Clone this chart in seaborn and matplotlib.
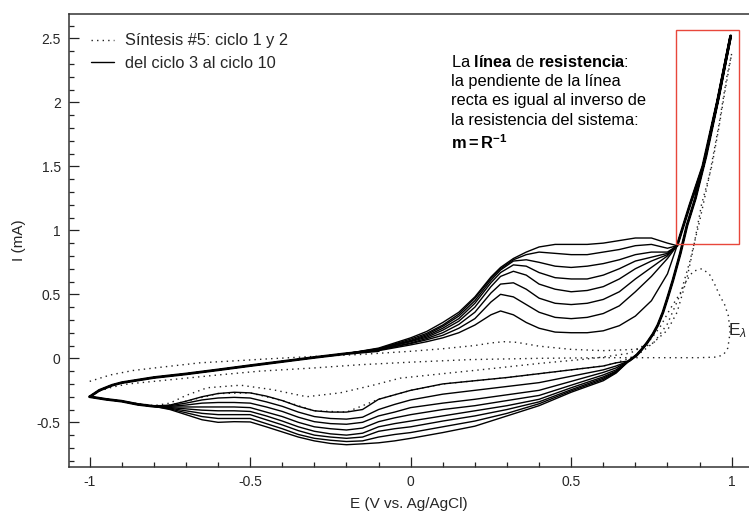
import matplotlib
matplotlib.use("Agg")
import matplotlib.pyplot as plt
import numpy as np
import pandas as pd
import seaborn as sns
from matplotlib.lines import Line2D
from matplotlib.patches import Rectangle
from matplotlib.ticker import MultipleLocator, FuncFormatter

# ---------------------------------------------------------------------------
# Voltammogram data: potential E (V vs. Ag/AgCl) and current I (mA)
# ---------------------------------------------------------------------------

# Anodic sweep, shared by cycles 3-10 (from -1 V up to -0.2 V)
E_ANODIC_START = [-1.0, -0.97, -0.93, -0.9, -0.8, -0.7, -0.6, -0.5, -0.4, -0.3, -0.2]
I_ANODIC_START = [-0.30, -0.25, -0.21, -0.19, -0.15, -0.122, -0.09, -0.057, -0.025, 0.007, 0.037]

# Anodic sweep, per cycle (polymer oxidation region)
E_ANODIC_MID = [-0.1, 0.0, 0.05, 0.1, 0.15, 0.2, 0.25, 0.28, 0.32, 0.36,
                0.4, 0.45, 0.5, 0.55, 0.6, 0.65, 0.7, 0.75, 0.8, 0.83]
I_ANODIC_C3 = [0.06, 0.105, 0.13, 0.16, 0.20, 0.26, 0.34, 0.37, 0.34, 0.28,
               0.235, 0.205, 0.20, 0.20, 0.215, 0.255, 0.33, 0.45, 0.66, 0.88]
I_ANODIC_C4 = [0.065, 0.115, 0.145, 0.18, 0.235, 0.31, 0.44, 0.50, 0.48, 0.42,
               0.36, 0.32, 0.31, 0.32, 0.35, 0.41, 0.52, 0.64, 0.78, 0.88]
I_ANODIC_C5 = [0.065, 0.12, 0.155, 0.20, 0.265, 0.36, 0.51, 0.58, 0.59, 0.54,
               0.47, 0.43, 0.42, 0.43, 0.46, 0.52, 0.62, 0.71, 0.80, 0.88]
I_ANODIC_C6 = [0.07, 0.13, 0.165, 0.22, 0.29, 0.40, 0.56, 0.64, 0.68, 0.65,
               0.58, 0.54, 0.52, 0.53, 0.56, 0.62, 0.70, 0.76, 0.81, 0.88]
I_ANODIC_C7 = [0.07, 0.135, 0.175, 0.235, 0.31, 0.43, 0.59, 0.67, 0.73, 0.72,
               0.67, 0.63, 0.62, 0.62, 0.65, 0.70, 0.76, 0.79, 0.82, 0.88]
I_ANODIC_C8 = [0.075, 0.14, 0.185, 0.25, 0.33, 0.45, 0.61, 0.69, 0.76, 0.77,
               0.75, 0.72, 0.71, 0.72, 0.74, 0.77, 0.81, 0.83, 0.83, 0.88]
I_ANODIC_C9 = [0.075, 0.15, 0.195, 0.26, 0.345, 0.47, 0.625, 0.70, 0.77, 0.81,
               0.83, 0.82, 0.81, 0.81, 0.83, 0.85, 0.88, 0.89, 0.86, 0.88]
I_ANODIC_C10 = [0.08, 0.16, 0.21, 0.28, 0.36, 0.48, 0.635, 0.71, 0.78, 0.83,
                0.87, 0.89, 0.89, 0.89, 0.90, 0.92, 0.94, 0.94, 0.90, 0.88]

# Anodic sweep up to the switching potential (resistance line)
E_ANODIC_END = [0.87, 0.91, 0.955, 0.997]
I_ANODIC_END = [1.2, 1.5, 2.0, 2.52]

# Cathodic sweep, shared part right after the switching potential
E_CATHODIC_START = [0.96, 0.92, 0.887, 0.861, 0.84, 0.817, 0.8, 0.786, 0.77,
                    0.755, 0.736, 0.72, 0.704, 0.68]
I_CATHODIC_START = [2.05, 1.58, 1.25, 1.04, 0.82, 0.61, 0.47, 0.36, 0.26,
                    0.19, 0.12, 0.07, 0.025, -0.02]

# Cathodic sweep, per cycle (polymer reduction region)
E_CATHODIC_MID = [0.64, 0.6, 0.5, 0.4, 0.3, 0.2, 0.1, 0.0, -0.05, -0.1, -0.15, -0.2,
                  -0.25, -0.3, -0.35, -0.4, -0.45, -0.5, -0.55, -0.6, -0.65, -0.7, -0.75]
I_CATHODIC_C3 = [-0.035, -0.06, -0.09, -0.12, -0.15, -0.175, -0.20, -0.25, -0.285, -0.32,
                 -0.40, -0.42, -0.42, -0.41, -0.375, -0.33, -0.295, -0.27, -0.265,
                 -0.275, -0.30, -0.335, -0.365]
I_CATHODIC_C4 = [-0.06, -0.09, -0.14, -0.19, -0.22, -0.25, -0.28, -0.325, -0.36, -0.40,
                 -0.46, -0.475, -0.47, -0.455, -0.42, -0.375, -0.34, -0.31, -0.305,
                 -0.31, -0.325, -0.35, -0.37]
I_CATHODIC_C5 = [-0.075, -0.11, -0.18, -0.25, -0.285, -0.32, -0.35, -0.385, -0.42, -0.45,
                 -0.50, -0.515, -0.51, -0.495, -0.46, -0.415, -0.38, -0.35, -0.345,
                 -0.345, -0.35, -0.365, -0.375]
I_CATHODIC_C6 = [-0.09, -0.13, -0.21, -0.29, -0.33, -0.37, -0.40, -0.44, -0.465, -0.495,
                 -0.545, -0.56, -0.55, -0.535, -0.50, -0.455, -0.42, -0.385, -0.38,
                 -0.38, -0.38, -0.38, -0.38]
I_CATHODIC_C7 = [-0.10, -0.145, -0.23, -0.32, -0.37, -0.41, -0.45, -0.49, -0.51, -0.535,
                 -0.585, -0.60, -0.59, -0.57, -0.535, -0.49, -0.45, -0.415, -0.41,
                 -0.41, -0.405, -0.395, -0.385]
I_CATHODIC_C8 = [-0.105, -0.155, -0.245, -0.34, -0.40, -0.45, -0.49, -0.535, -0.55, -0.57,
                 -0.615, -0.625, -0.615, -0.60, -0.565, -0.52, -0.48, -0.44, -0.44,
                 -0.44, -0.43, -0.41, -0.39]
I_CATHODIC_C9 = [-0.11, -0.165, -0.255, -0.355, -0.43, -0.49, -0.535, -0.58, -0.595, -0.615,
                 -0.645, -0.65, -0.64, -0.625, -0.595, -0.55, -0.51, -0.47, -0.47,
                 -0.47, -0.455, -0.425, -0.395]
I_CATHODIC_C10 = [-0.115, -0.175, -0.265, -0.37, -0.45, -0.53, -0.58, -0.625, -0.645, -0.66,
                  -0.668, -0.675, -0.665, -0.645, -0.615, -0.575, -0.535, -0.497, -0.495,
                  -0.50, -0.48, -0.44, -0.40]

# Cathodic sweep, shared end back to -1 V
E_CATHODIC_END = [-0.8, -0.85, -0.9, -0.95, -1.0]
I_CATHODIC_END = [-0.375, -0.36, -0.335, -0.32, -0.30]

# Cycle 1 (full loop, nucleation loop at the switching potential)
E_CYCLE1 = [-1.0, -0.97, -0.93, -0.88, -0.8, -0.7, -0.6, -0.47, -0.3, -0.158, 0.0, 0.185,
            0.4, 0.6, 0.8, 0.9, 0.955, 0.975, 0.988, 0.995, 0.99, 0.978, 0.963, 0.945,
            0.93, 0.907, 0.88, 0.86, 0.84, 0.807, 0.777, 0.745, 0.714, 0.683, 0.6, 0.53,
            0.4, 0.216, 0.1, -0.033, -0.117, -0.22, -0.324, -0.43, -0.53, -0.634, -0.7,
            -0.75, -0.8, -0.9, -1.0]
I_CYCLE1 = [-0.30, -0.255, -0.225, -0.20, -0.18, -0.155, -0.13, -0.10, -0.075, -0.05,
            -0.03, -0.01, 0.0, 0.005, 0.005, 0.005, 0.01, 0.03, 0.08, 0.2, 0.33, 0.42,
            0.49, 0.59, 0.66, 0.70, 0.68, 0.61, 0.51, 0.38, 0.245, 0.14, 0.08, 0.04,
            0.01, -0.01, -0.04, -0.09, -0.12, -0.155, -0.21, -0.27, -0.30, -0.245,
            -0.21, -0.23, -0.29, -0.35, -0.37, -0.335, -0.30]

# Cycle 2 (full loop)
E_CYCLE2 = [-1.0, -0.936, -0.865, -0.78, -0.656, -0.55, -0.45, -0.3, -0.158, 0.0, 0.1,
            0.2, 0.25, 0.29, 0.33, 0.4, 0.5, 0.6, 0.7, 0.75, 0.8, 0.83, 0.86, 0.88,
            0.906, 0.938, 0.96, 0.98, 1.0, 0.985, 0.96, 0.93, 0.9, 0.87, 0.84, 0.8,
            0.76, 0.72, 0.68, 0.64, 0.6, 0.5, 0.4, 0.3, 0.2, 0.1, 0.0, -0.1, -0.2,
            -0.3, -0.4, -0.5, -0.6, -0.7, -0.75, -0.8, -0.9, -1.0]
I_CYCLE2 = [-0.18, -0.13, -0.095, -0.07, -0.035, -0.02, -0.005, 0.015, 0.03, 0.055,
            0.075, 0.10, 0.12, 0.13, 0.125, 0.095, 0.07, 0.06, 0.07, 0.11, 0.22, 0.36,
            0.62, 0.85, 1.2, 1.5, 1.8, 2.1, 2.38, 2.2, 1.82, 1.42, 1.07, 0.76, 0.5,
            0.27, 0.13, 0.05, 0.0, -0.035, -0.06, -0.09, -0.12, -0.15, -0.175, -0.2,
            -0.25, -0.32, -0.42, -0.41, -0.33, -0.27, -0.275, -0.335, -0.365, -0.375,
            -0.335, -0.30]

ANODIC_BY_CYCLE = [I_ANODIC_C3, I_ANODIC_C4, I_ANODIC_C5, I_ANODIC_C6,
                   I_ANODIC_C7, I_ANODIC_C8, I_ANODIC_C9, I_ANODIC_C10]
CATHODIC_BY_CYCLE = [I_CATHODIC_C3, I_CATHODIC_C4, I_CATHODIC_C5, I_CATHODIC_C6,
                     I_CATHODIC_C7, I_CATHODIC_C8, I_CATHODIC_C9, I_CATHODIC_C10]

LEGEND_LABELS = ["Síntesis #5: ciclo 1 y 2", "del ciclo 3 al ciclo 10"]

# ---------------------------------------------------------------------------
# Long-form tables
# ---------------------------------------------------------------------------
rows = []
for n, (i_an, i_cat) in enumerate(zip(ANODIC_BY_CYCLE, CATHODIC_BY_CYCLE), start=3):
    e_all = (E_ANODIC_START + E_ANODIC_MID + E_ANODIC_END +
             E_CATHODIC_START + E_CATHODIC_MID + E_CATHODIC_END)
    i_all = (I_ANODIC_START + i_an + I_ANODIC_END +
             I_CATHODIC_START + i_cat + I_CATHODIC_END)
    for k, (e, i) in enumerate(zip(e_all, i_all)):
        rows.append({"ciclo": n, "paso": k, "E": e, "I": i})
solid_df = pd.DataFrame(rows)

# Stretches where the eight cycles lie on top of each other (drawn as one bundle)
bundle_parts = [
    (E_ANODIC_START + E_ANODIC_MID[:1], I_ANODIC_START + [I_ANODIC_C3[0]]),
    (E_ANODIC_MID[-1:] + E_ANODIC_END + E_CATHODIC_START,
     I_ANODIC_C3[-1:] + I_ANODIC_END + I_CATHODIC_START),
    (E_CATHODIC_MID[-1:] + E_CATHODIC_END, [I_CATHODIC_C5[-1]] + I_CATHODIC_END),
]
rows = []
for n, (e_p, i_p) in enumerate(bundle_parts):
    for k, (e, i) in enumerate(zip(e_p, i_p)):
        rows.append({"tramo": n, "paso": k, "E": e, "I": i})
bundle_df = pd.DataFrame(rows)

rows = []
for n, (e_c, i_c) in enumerate([(E_CYCLE1, I_CYCLE1), (E_CYCLE2, I_CYCLE2)], start=1):
    for k, (e, i) in enumerate(zip(e_c, i_c)):
        rows.append({"ciclo": n, "paso": k, "E": e, "I": i})
dotted_df = pd.DataFrame(rows)

# ---------------------------------------------------------------------------
# Figure
# ---------------------------------------------------------------------------
sns.set_theme(style="white")
plt.rcParams.update({
    "font.family": ["Liberation Sans", "DejaVu Sans"],
    "font.size": 10,
    "axes.unicode_minus": False,
    "mathtext.fontset": "custom",
    "mathtext.rm": "Liberation Sans",
    "mathtext.it": "Liberation Sans:italic",
    "mathtext.bf": "Liberation Sans:bold",
})

TEXT_SIZE = 11.8
DOTS = (0, (1, 3))
fig = plt.figure(figsize=(7.49, 5.12), dpi=100)
ax = fig.add_axes([69 / 749, 45 / 512, 680 / 749, 453 / 512])

sns.lineplot(data=dotted_df, x="E", y="I", units="ciclo", estimator=None, sort=False,
             color="#222222", lw=1.0, linestyle=DOTS, ax=ax, legend=False)
sns.lineplot(data=solid_df, x="E", y="I", units="ciclo", estimator=None, sort=False,
             color="black", lw=1.0, ax=ax, legend=False)
sns.lineplot(data=bundle_df, x="E", y="I", units="tramo", estimator=None, sort=False,
             color="black", lw=2.0, ax=ax, legend=False,
             solid_capstyle="round", solid_joinstyle="round")

ax.set_xlim(-1.0645, 1.054)
ax.set_ylim(-0.849, 2.69)

for side in ("left", "top", "bottom"):
    ax.spines[side].set_visible(True)
    ax.spines[side].set_color("#333333")
    ax.spines[side].set_linewidth(1.1)
ax.spines["right"].set_visible(False)

ax.xaxis.set_major_locator(MultipleLocator(0.5))
ax.xaxis.set_minor_locator(MultipleLocator(0.1))
ax.yaxis.set_major_locator(MultipleLocator(0.5))
ax.yaxis.set_minor_locator(MultipleLocator(0.1))
fmt = FuncFormatter(lambda v, p: f"{round(v, 2) + 0.0:g}")
ax.xaxis.set_major_formatter(fmt)
ax.yaxis.set_major_formatter(fmt)
ax.tick_params(which="major", direction="in", length=7.2, width=0.9, color="#222222",
               labelsize=10, pad=6, bottom=True, left=True, top=False, right=False)
ax.tick_params(which="minor", direction="in", length=3.6, width=0.9, color="#222222",
               bottom=True, left=True, top=False, right=False)

ax.set_xlabel("E (V vs. Ag/AgCl)", fontsize=11, labelpad=5.5)
ax.set_ylabel("I (mA)", fontsize=11, labelpad=8)

# Region where the current follows the resistance line
ax.add_patch(Rectangle((0.826, 0.89), 1.023 - 0.826, 2.5625 - 0.89, fill=False,
                       edgecolor="#e8473b", lw=1.0, clip_on=False, zorder=5))

ax.text(0.125, 2.375,
        "La $\\mathbf{línea}$ de $\\mathbf{resistencia}$:\n"
        "la pendiente de la línea\n"
        "recta es igual al inverso de\n"
        "la resistencia del sistema:\n"
        "$\\mathbf{m=R^{-1}}$",
        ha="left", va="top", fontsize=TEXT_SIZE, linespacing=1.34, color="black")

ax.text(0.989, 0.22, "E$_{\\lambda}$", ha="left", va="center", fontsize=12.5)

handles = [Line2D([], [], color="#222222", lw=1.0, linestyle=DOTS),
           Line2D([], [], color="black", lw=1.0)]
ax.legend(handles, LEGEND_LABELS, loc="upper left", bbox_to_anchor=(0.033, 0.957),
          frameon=False, fontsize=TEXT_SIZE, handlelength=1.4, handletextpad=0.67,
          labelspacing=0.45, borderaxespad=0, borderpad=0)

fig.savefig("out.png", dpi=100)
